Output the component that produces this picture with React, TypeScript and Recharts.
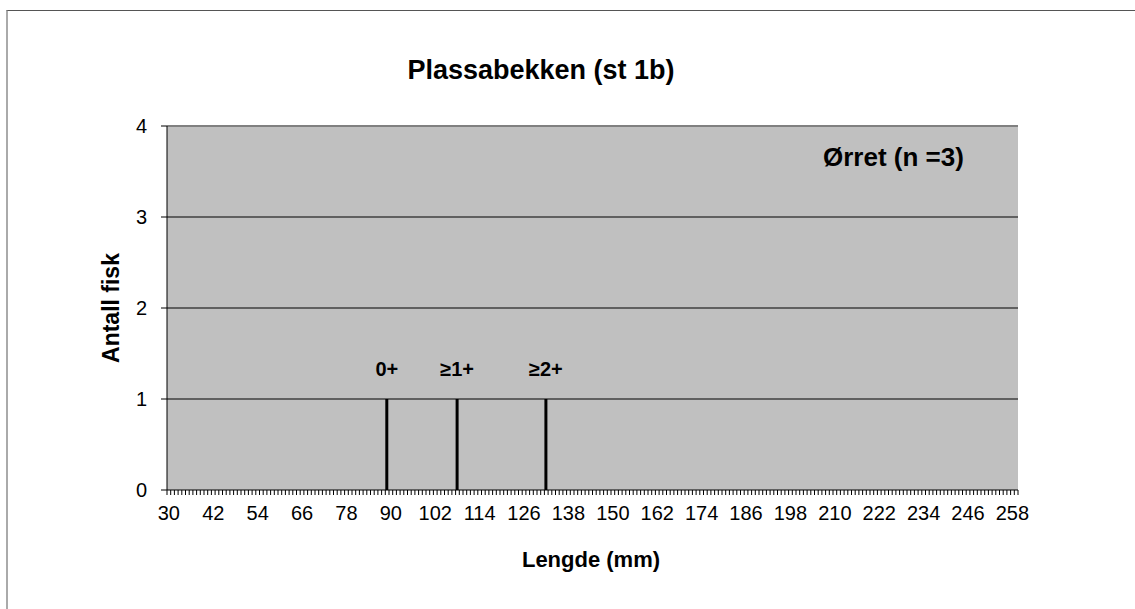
import {
  BarChart,
  Bar,
  XAxis,
  YAxis,
  CartesianGrid,
  ReferenceLine,
  LabelList,
  Customized,
} from "recharts";

// Length classes (mm) on the x axis
const minLength = 30;
const maxLength = 259;
const labelStep = 12;

// Measured fish and their age groups
const fishLengths = [89, 108, 132];
const ageLabels = ["0+", "≥1+", "≥2+"];

const yTicks = [0, 1, 2, 3, 4];
const gridValues = [1, 2, 3];

const lengths = Array.from(
  { length: maxLength - minLength + 1 },
  (_, i) => minLength + i
);

const data = lengths.map((len) => {
  const idx = fishLengths.indexOf(len);
  return {
    len,
    count: fishLengths.filter((f) => f === len).length,
    age: idx >= 0 ? ageLabels[idx] : "",
  };
});

const FONT = "'Liberation Sans', Arial, sans-serif";

function LengthTick(props: any) {
  const { x, y, payload, index } = props;
  const half = payload?.offset ?? 1.85;
  const showLabel = (payload.value - minLength) % labelStep === 0;
  return (
    <g>
      <line x1={x - half} x2={x - half} y1={y} y2={y + 5} stroke="#000" />
      {index === lengths.length - 1 && (
        <line x1={x + half} x2={x + half} y1={y} y2={y + 5} stroke="#000" />
      )}
      {showLabel && (
        <text
          x={x}
          y={y + 30}
          textAnchor="middle"
          fontSize={20}
          fontFamily={FONT}
          fill="#000"
        >
          {payload.value}
        </text>
      )}
    </g>
  );
}

function AgeLabel(props: any) {
  const { x, y, width, value } = props;
  if (!value) return null;
  return (
    <text
      x={x + width / 2}
      y={y - 23}
      textAnchor="middle"
      fontSize={20}
      fontWeight="bold"
      fontFamily={FONT}
      fill="#000"
    >
      {value}
    </text>
  );
}

function Texts() {
  return (
    <g fontFamily={FONT} fontWeight="bold" fill="#000">
      <text x={541} y={79} textAnchor="middle" fontSize={27}>
        Plassabekken (st 1b)
      </text>
      <text x={823} y={166} fontSize={26}>
        Ørret (n =3)
      </text>
      <text x={591} y={567} textAnchor="middle" fontSize={22}>
        Lengde (mm)
      </text>
      <text
        x={119}
        y={308}
        textAnchor="middle"
        fontSize={23}
        transform="rotate(-90 119 308)"
      >
        Antall fisk
      </text>
    </g>
  );
}

export default function App() {
  return (
    <div
      style={{
        position: "absolute",
        left: 0,
        top: 0,
        width: 1135,
        height: 609,
        background: "#fff",
      }}
    >
      <div
        style={{
          position: "absolute",
          left: 6,
          top: 10,
          right: 0,
          bottom: 0,
          borderTop: "1px solid #555",
          borderLeft: "2px solid #aaa",
        }}
      />
      <div style={{ position: "absolute", left: 0, top: 0 }}>
        <BarChart
          width={1135}
          height={609}
          data={data}
          margin={{ top: 126, right: 117, left: 107, bottom: 79 }}
          barCategoryGap={0}
        >
          <CartesianGrid
            vertical={false}
            horizontalValues={gridValues}
            fill="#c0c0c0"
            fillOpacity={1}
            stroke="#000"
          />
          <ReferenceLine y={4} stroke="#808080" strokeWidth={2} />
          <ReferenceLine
            x={maxLength}
            position="end"
            stroke="#808080"
            strokeWidth={2}
          />
          <XAxis
            dataKey="len"
            interval={0}
            height={40}
            tickLine={false}
            tickSize={0}
            tickMargin={0}
            axisLine={{ stroke: "#000" }}
            tick={<LengthTick />}
          />
          <YAxis
            type="number"
            domain={[0, 4]}
            ticks={yTicks}
            width={60}
            tickSize={6}
            tickMargin={14}
            axisLine={{ stroke: "#000" }}
            tickLine={{ stroke: "#000" }}
            tick={{ fontSize: 20, fill: "#000", fontFamily: FONT }}
          />
          <Bar dataKey="count" fill="#000" barSize={3} isAnimationActive={false}>
            <LabelList dataKey="age" content={<AgeLabel />} />
          </Bar>
          <Customized component={Texts} />
        </BarChart>
      </div>
    </div>
  );
}
